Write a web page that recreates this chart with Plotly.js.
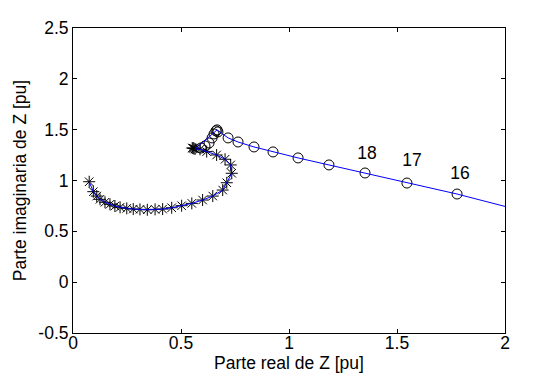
<!DOCTYPE html>
<html>
<head>
<meta charset="utf-8">
<script src="https://cdn.plot.ly/plotly-3.0.1.min.js"></script>
<style>html,body{margin:0;padding:0;background:#fff;}#chart{width:559px;height:375px;}</style>
</head>
<body>
<div id="chart"></div>
<script>
// Trajectory with "*" markers (real, imaginary parts of Z)
var starX = [0.075,0.094,0.110,0.125,0.148,0.171,0.194,0.218,0.249,0.279,0.310,0.344,0.380,0.415,0.457,0.503,0.550,0.600,0.647,0.693,0.712,0.735,0.730,0.704,0.665,0.619,0.588,0.565,0.560,0.556,0.552];
var starY = [0.988,0.890,0.847,0.815,0.786,0.766,0.749,0.736,0.726,0.719,0.716,0.712,0.716,0.719,0.732,0.752,0.775,0.808,0.847,0.906,0.978,1.071,1.153,1.209,1.251,1.284,1.307,1.310,1.315,1.318,1.320];
// Trajectory with "o" markers
var circX = [0.593,0.611,0.630,0.644,0.653,0.662,0.667,0.671,0.718,0.764,0.838,0.926,1.042,1.185,1.352,1.546,1.778];
var circY = [1.320,1.340,1.369,1.419,1.458,1.488,1.498,1.478,1.419,1.379,1.330,1.281,1.222,1.153,1.074,0.975,0.867];
// Line continuation to the right edge
var tailX = [2.0];
var tailY = [0.745];
// Labels
var labelText = ['18','17','16'];
var labelX = [1.361,1.569,1.792];
var labelY = [1.256,1.187,1.054];

var lineX = starX.slice(0, 28).concat([0.667]).concat(circX.slice(8)).concat(tailX);
var lineY = starY.slice(0, 28).concat([1.498]).concat(circY.slice(8)).concat(tailY);

var FONT = 'Liberation Sans, Arial, Helvetica, sans-serif';

var traces = [
  {x: starX, y: starY, mode: 'markers', type: 'scatter',
   marker: {symbol: 'asterisk-open', size: 10, color: '#000', line: {color: '#000', width: 1}},
   hoverinfo: 'skip'},
  {x: circX, y: circY, mode: 'markers', type: 'scatter',
   marker: {symbol: 'circle-open', size: 10, color: '#000', line: {color: '#000', width: 1}},
   hoverinfo: 'skip'},
  {x: lineX, y: lineY, mode: 'lines', type: 'scatter',
   line: {color: '#0000ff', width: 1}, hoverinfo: 'skip'},
  {x: labelX, y: labelY, mode: 'text', type: 'scatter', text: labelText,
   textfont: {family: FONT, size: 17.5, color: '#000'}, textposition: 'middle center', hoverinfo: 'skip'}
];

var layout = {
  width: 559, height: 375,
  margin: {l: 73, r: 54, t: 28, b: 42, pad: 0},
  paper_bgcolor: '#fff', plot_bgcolor: '#fff',
  showlegend: false,
  font: {family: FONT, size: 17.5, color: '#000'},
  xaxis: {
    range: [0, 2], tickvals: [0, 0.5, 1, 1.5, 2], ticktext: ['0','0.5','1','1.5','2'],
    ticks: 'inside', ticklen: 4, tickcolor: '#000', tickwidth: 1,
    showline: true, linecolor: '#000', linewidth: 1, mirror: 'ticks',
    showgrid: false, zeroline: false, ticklabelstandoff: -6,
    tickfont: {family: FONT, size: 17.5, color: '#000'},
    title: {text: 'Parte real de Z [pu]', font: {family: FONT, size: 17.5, color: '#000'}, standoff: 0}
  },
  yaxis: {
    range: [-0.5, 2.5], tickvals: [-0.5, 0, 0.5, 1, 1.5, 2, 2.5], ticktext: ['-0.5','0','0.5','1','1.5','2','2.5'],
    ticks: 'inside', ticklen: 4, tickcolor: '#000', tickwidth: 1,
    showline: true, linecolor: '#000', linewidth: 1, mirror: 'ticks',
    showgrid: false, zeroline: false,
    tickfont: {family: FONT, size: 17.5, color: '#000'},
    title: {text: 'Parte imaginaria de Z [pu]', font: {family: FONT, size: 17.5, color: '#000'}, standoff: 7}
  }
};

Plotly.newPlot('chart', traces, layout, {staticPlot: true, displayModeBar: false});
</script>
</body>
</html>
